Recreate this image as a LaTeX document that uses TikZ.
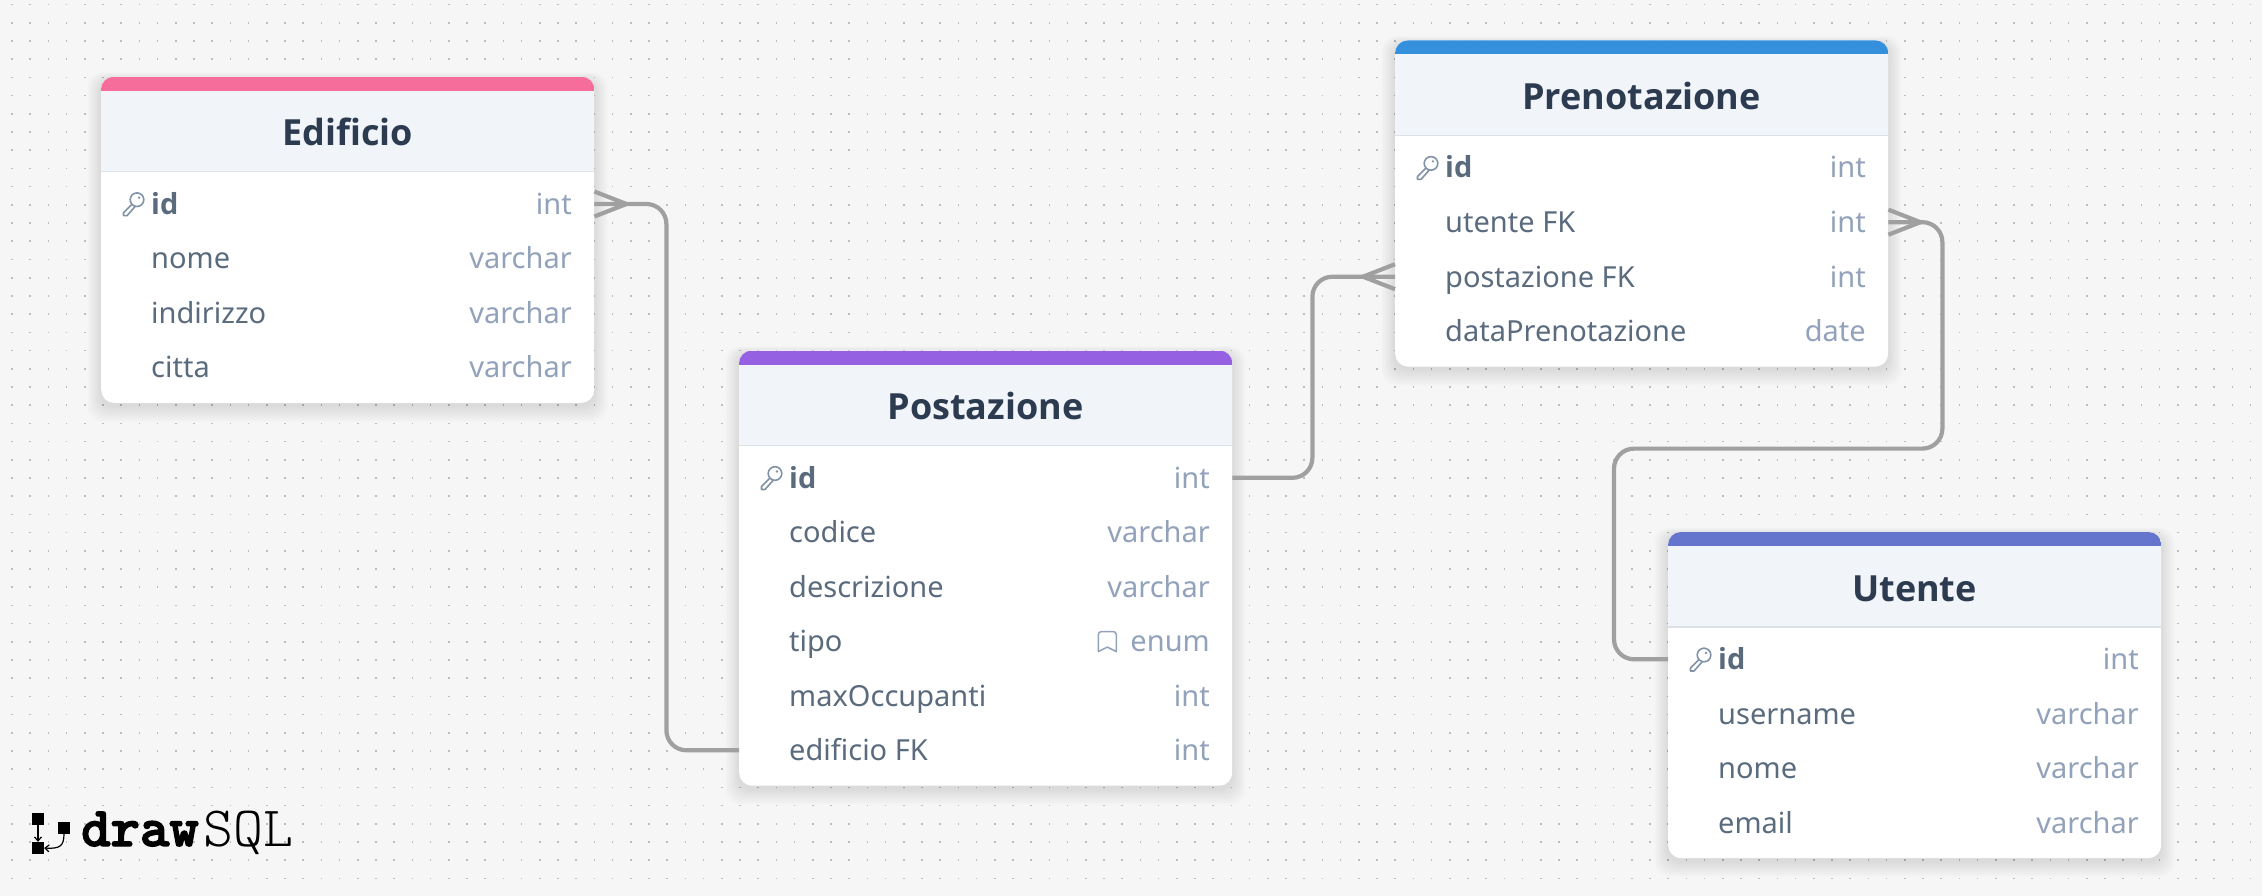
\documentclass[tikz,border=0pt]{standalone}
\usepackage{fontspec}
\setmainfont{Noto Sans}
\newfontfamily\titlefont{Open Sans}
\newfontfamily\logobold[FakeBold=2.5]{lmmonolt10-bold.otf}
\newfontfamily\logolight{lmmonolt10-regular.otf}
\usetikzlibrary{positioning, arrows.meta}

\definecolor{pagecol}{HTML}{F6F6F6}
\definecolor{dotcol}{HTML}{BDBDBD}
\definecolor{headcol}{HTML}{F1F5F9}
\definecolor{rulecol}{HTML}{DAE1E7}
\definecolor{titlecol}{HTML}{2D3B50}
\definecolor{fieldcol}{HTML}{5B6B7E}
\definecolor{typecol}{HTML}{92A2BA}
\definecolor{linkcol}{HTML}{A0A0A0}
\definecolor{pinkcol}{HTML}{F66D9B}
\definecolor{bluecol}{HTML}{3490DC}
\definecolor{purplecol}{HTML}{9561E2}
\definecolor{indigocol}{HTML}{6574CD}

\tikzset{
    griddots/.style={dotcol, line width=1.6pt, dash pattern=on 1.6pt off 16.6pt},
    card/.style={fill=white, rounded corners=13pt, inner sep=0, anchor=north west, minimum width=493pt},
    titletext/.style={anchor=base, inner sep=0, text=titlecol, font=\fontsize{36}{40}\titlefont\bfseries},
    fieldtext/.style={anchor=base west, inner sep=0, text=fieldcol, font=\fontsize{29}{34}\selectfont},
    typetext/.style={anchor=base east, inner sep=0, text=typecol, font=\fontsize{29}{34}\selectfont},
    relation/.style={linkcol, line width=4.2pt, line join=round, rounded corners=20pt},
    logobox/.style={fill=black, inner sep=0, minimum size=12pt},
    logoline/.style={line width=1.2pt, -{Straight Barb[length=4pt,width=7pt]}},
    keyicon/.pic={
        \draw[typecol!70!fieldcol, line width=1.6pt, line join=round]
            (3.5,-3.5) circle (6.8pt)
            (-1.5,1) -- (-10,9.5) -- (-10,12.5) -- (-6.5,12.5) -- (1.5,3.5);
        \fill[typecol!70!fieldcol] (5.5,-5.5) circle (1.3pt);
    },
    markicon/.pic={
        \draw[typecol, line width=1.5pt, line join=round]
            (-9,10) -- (-9,-7) arc[start angle=180, end angle=90, radius=3pt] -- (6,-10)
            arc[start angle=90, end angle=0, radius=3pt] -- (9,10) -- (0,5.5) -- cycle;
    }
}

% name, colour, x, y, rows, title, other rows
\newcommand{\tablecard}[7]{
    \foreach \s in {1,...,9}
        \fill[black, opacity=0.012, rounded corners=15pt]
            (#3-\s*1.5,#4-\s*0.8+3) rectangle (#3+493+\s*1.5,#4+108+54.5*#5+\s*1.8+3);
    \node[card, minimum height={(108+54.5*#5)*1pt}] (#1) at (#3,#4) {};
    \begin{scope}
        \clip[rounded corners=13pt] (#1.north west) rectangle (#1.south east);
        \fill[headcol] (#3,#4) rectangle ++(493,95);
        \fill[#2] (#3,#4) rectangle ++(493,14);
        \draw[rulecol, line width=1.2pt] (#3,#4+95) -- ++(493,0);
    \end{scope}
    \node[titletext] (#1-title) at (#3+246.5,#4+69.3) {#6};
    \path (#3+32.5,#4+126.5) pic {keyicon};
    \node[fieldtext, font=\fontsize{29}{34}\titlefont\bfseries] (#1-1-name) at (#3+50,#4+137.6) {id};
    \node[typetext] (#1-1-type) at (#3+471,#4+137.6) {int};
    \coordinate (#1-1) at (#3,#4+127.3);
    \foreach \fld/\typ [count=\r from 2] in {#7} {
        \node[fieldtext] (#1-\r-name) at (#3+50,#4+83.1+54.5*\r) {\fld};
        \node[typetext] (#1-\r-type) at (#3+471,#4+83.1+54.5*\r) {\typ};
        \coordinate (#1-\r) at (#3,#4+72.8+54.5*\r);
    }
}
% edge of the table, length towards the tip
\newcommand{\crowfoot}[2]{
    \draw[relation, sharp corners] (#1) ++(0,-12.5) -- ++(#2,12.5) -- ++(-#2,12.5);
}

\begin{document}
\begin{tikzpicture}[x=1pt,y=-1pt]
    \useasboundingbox (0,0) rectangle (2262,896);
    \fill[pagecol] (0,0) rectangle (2262,896);
    \foreach \row in {0,...,48}
        \draw[griddots] (11.2,4.7+18.2*\row) -- (2262,4.7+18.2*\row);

    \tablecard{edificio}{pinkcol}{101}{76.7}{4}{Edificio}
        {nome/varchar, indirizzo/varchar, citta/varchar}
    \tablecard{postazione}{purplecol}{739}{350.5}{6}{Postazione}
        {codice/varchar, descrizione/varchar, tipo/enum, maxOccupanti/int, edificio FK/int}
    \tablecard{prenotazione}{bluecol}{1395}{40.4}{4}{Prenotazione}
        {utente FK/int, postazione FK/int, dataPrenotazione/date}
    \tablecard{utente}{indigocol}{1668}{532}{4}{Utente}
        {username/varchar, nome/varchar, email/varchar}
    \path (postazione-4-type.base west) ++(-23,-10) pic {markicon};

    \draw[relation] (edificio.east |- edificio-1) -- ++(72,0) |- (postazione.west |- postazione-6);
    \crowfoot{edificio.east |- edificio-1}{32}
    \draw[relation] (postazione.east |- postazione-1) -- ++(80,0) |- (prenotazione.west |- prenotazione-3);
    \crowfoot{prenotazione.west |- prenotazione-3}{-32}
    \coordinate (utentebend) at (1614,448.6);
    \draw[relation] (prenotazione.east |- prenotazione-2) -- ++(54,0) |- (utentebend) |- (utente.west |- utente-1);
    \crowfoot{prenotazione.east |- prenotazione-2}{32}

    % logo
    \node[logobox] (logotop) at (38,818.5) {};
    \node[logobox] (logobottom) at (38,848) {};
    \node[logobox] (logoright) at (64,827.5) {};
    \draw[logoline] (logotop.south) -- (logobottom.north);
    \draw[logoline] (logoright.south) .. controls (64,846) and (60,849) .. (logobottom.east);
    \node[anchor=base west, inner sep=0, font=\fontsize{56}{60}\logobold] (logodraw) at (81,846) {draw};
    \node[anchor=base west, inner sep=0, font=\fontsize{57}{60}\logolight] (logosql) at (203,846) {SQL};
\end{tikzpicture}
\end{document}
